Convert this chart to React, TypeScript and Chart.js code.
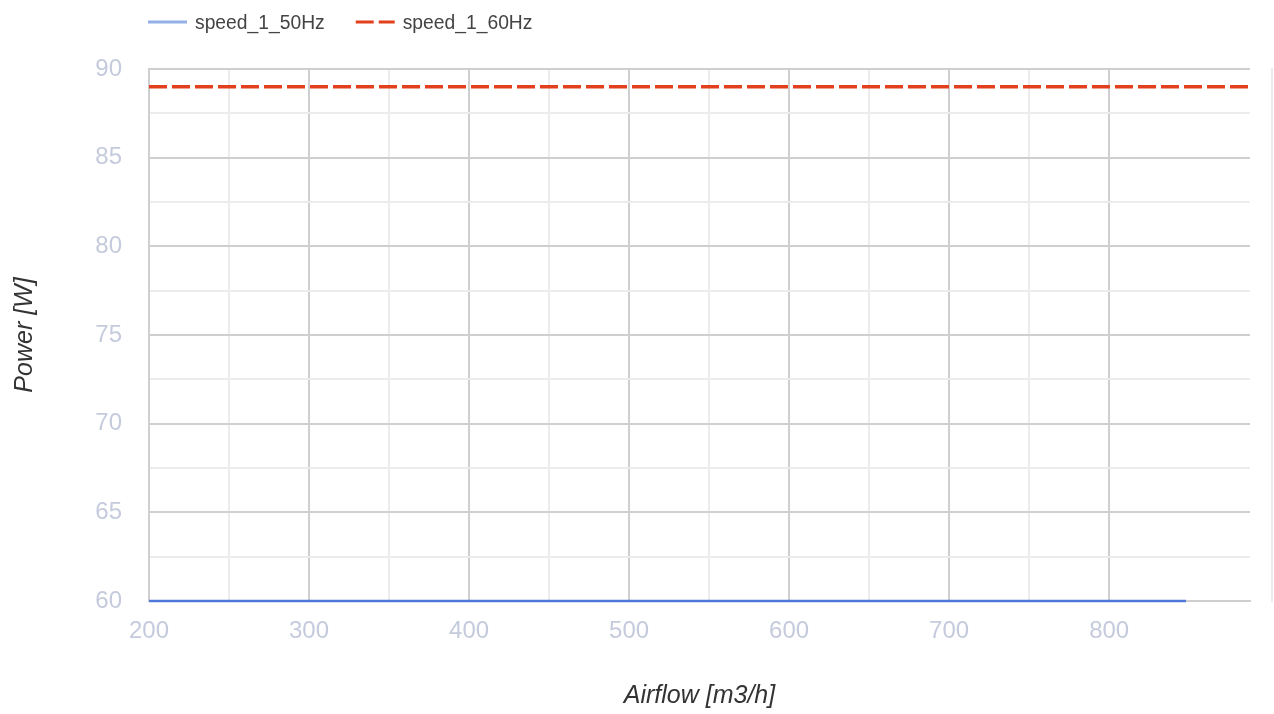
import React, { useEffect, useRef } from "react";
import { Chart, registerables } from "chart.js";

Chart.register(...registerables);

// ---- data ----
const seriesNames = ["speed_1_50Hz", "speed_1_60Hz"];
const airflow50 = [200, 848];
const power50 = [60, 60];
const airflow60 = [200, 888];
const power60 = [89, 89];
const xMin = 200;
const xMax = 888;
const yMin = 60;
const yMax = 90;

const FONT = "'Liberation Sans', Arial, sans-serif";
const MAJOR = "#cfcfcf";
const MINOR = "#ececec";

const legendPlugin = {
  id: "customLegend",
  afterDraw(chart: any) {
    const ctx = chart.ctx;
    const y = 22;
    let x = chart.chartArea.left - 1;
    ctx.save();
    ctx.font = `19.3px ${FONT}`;
    ctx.textBaseline = "middle";
    ctx.textAlign = "left";
    chart.data.datasets.forEach((ds: any) => {
      ctx.strokeStyle = ds.legendColor || ds.borderColor;
      ctx.lineWidth = 3;
      ctx.setLineDash(ds.borderDash || []);
      ctx.beginPath();
      ctx.moveTo(x, y);
      ctx.lineTo(x + 39, y);
      ctx.stroke();
      ctx.setLineDash([]);
      ctx.fillStyle = "#444";
      ctx.fillText(ds.label, x + 47, y + 2);
      x += 47 + ctx.measureText(ds.label).width + 31;
    });
    // faint frame line at right side
    const a = chart.chartArea;
    ctx.strokeStyle = "#ebebeb";
    ctx.lineWidth = 2;
    ctx.beginPath();
    ctx.moveTo(a.right + 22, a.top - 1);
    ctx.lineTo(a.right + 22, a.bottom + 1);
    ctx.stroke();
    ctx.restore();
  },
};

export default function App() {
  const ref = useRef<HTMLCanvasElement | null>(null);
  useEffect(() => {
    document.body.style.margin = "0";
    if (!ref.current) return;
    const chart = new Chart(ref.current, {
      type: "line",
      data: {
        datasets: [
          {
            label: seriesNames[0],
            data: airflow50.map((x, i) => ({ x, y: power50[i] })),
            borderColor: "#4f78d8",
            legendColor: "#94b0e8",
            borderWidth: 2.5,
            pointRadius: 0,
            fill: false,
            clip: false,
          } as any,
          {
            label: seriesNames[1],
            data: airflow60.map((x, i) => ({ x, y: power60[i] })),
            borderColor: "#e2401c",
            borderWidth: 3.5,
            borderDash: [18, 5],
            pointRadius: 0,
            fill: false,
            clip: false,
          } as any,
        ],
      },
      options: {
        animation: false,
        responsive: false,
        layout: { padding: { top: 69, right: 24, left: 0, bottom: 0 } },
        plugins: { legend: { display: false }, tooltip: { enabled: false } },
        scales: {
          x: {
            type: "linear",
            min: xMin,
            max: xMax,
            afterFit: (s: any) => {
              s.height = 113;
            },
            ticks: {
              stepSize: 50,
              autoSkip: false,
              maxRotation: 0,
              padding: 16,
              color: "#c5cbdd",
              font: { family: FONT, size: 24 },
              callback: (v: any) => (Number(v) % 100 === 0 ? String(v) : ""),
            },
            grid: {
              drawTicks: false,
              lineWidth: 2,
              color: (c: any) => {
                const v = c.tick ? c.tick.value : 0;
                if (v % 100 === 0) return MAJOR;
                if (v % 50 === 0) return MINOR;
                return "rgba(0,0,0,0)";
              },
            },
            border: { display: true, color: MAJOR, width: 2 },
            title: {
              display: true,
              text: "Airflow [m3/h]",
              color: "#333",
              font: { family: FONT, size: 25, style: "italic" },
              padding: { top: 0, bottom: 3 },
            },
          },
          y: {
            type: "linear",
            min: yMin,
            max: yMax,
            afterFit: (s: any) => {
              s.width = 149;
            },
            ticks: {
              stepSize: 2.5,
              autoSkip: false,
              padding: 27,
              color: "#c5cbdd",
              font: { family: FONT, size: 24 },
              callback: (v: any) => (Number(v) % 5 === 0 ? String(v) : ""),
            },
            grid: {
              drawTicks: false,
              lineWidth: 2,
              color: (c: any) => {
                const v = c.tick ? c.tick.value : 0;
                return v % 5 === 0 ? MAJOR : MINOR;
              },
            },
            border: { display: true, color: MAJOR, width: 2 },
            title: {
              display: true,
              text: "Power [W]",
              color: "#333",
              font: { family: FONT, size: 25, style: "italic" },
              padding: { top: 10, bottom: 0 },
            },
          },
        },
      },
      plugins: [legendPlugin],
    } as any);
    return () => chart.destroy();
  }, []);
  return (
    <div style={{ width: 1274, height: 714 }}>
      <canvas ref={ref} width={1274} height={714} style={{ display: "block" }} />
    </div>
  );
}
